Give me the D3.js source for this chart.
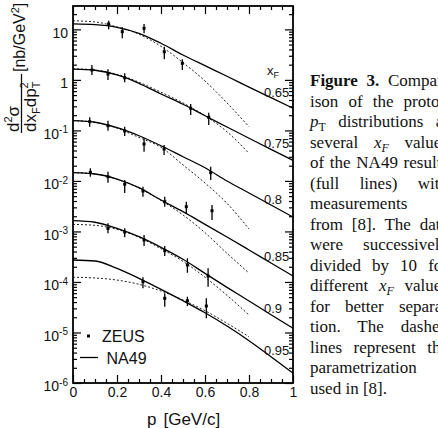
<!DOCTYPE html>
<html>
<head>
<meta charset="utf-8">
<script src="https://cdn.jsdelivr.net/npm/d3@7"></script>
<style>
body { margin: 0; background: #fff; }
svg text { font-family: "Liberation Sans", Arial, sans-serif; fill: #111; }
.caption text { font-family: "Liberation Serif", "Times New Roman", serif; font-size: 17px; }
</style>
</head>
<body>
<div class="chart"></div>
<script>
const WIDTH = 438;
const HEIGHT = 428;
const LEFT = 73, RIGHT = 293, TOP = 6, BOTTOM = 383;

// x_F bins, top to bottom (each divided by 10 w.r.t. the previous one)
var xfLabels = ["0.65", "0.75", "0.8", "0.85", "0.9", "0.95"];

// pT grid (GeV/c) on which the curves are read
var ptGrid = [0, 0.1, 0.2, 0.3, 0.4, 0.5, 0.6, 0.7, 0.8, 0.9, 1.0];
var ptParam = [0, 0.1, 0.2, 0.3, 0.4, 0.5, 0.6, 0.7, 0.8];

// NA49 (full lines)
var na49_065 = [12.8, 12.4, 11.0, 8.36, 5.3, 3.11, 1.91, 1.18, 0.72, 0.444, 0.274];
var na49_075 = [1.64, 1.55, 1.25, 0.855, 0.526, 0.329, 0.195, 0.117, 0.070, 0.042, 0.0256];
var na49_080 = [0.156, 0.145, 0.113, 0.0784, 0.0497, 0.0301, 0.0182, 0.00997, 0.00577, 0.00334, 0.00193];
var na49_085 = [0.01455, 0.0137, 0.0109, 0.00734, 0.00419, 0.00246, 0.00138, 0.000776, 0.00043, 0.000237, 0.000131];
var na49_090 = [0.00163, 0.00152, 0.00115, 0.000787, 0.000485, 0.000281, 0.000148, 7.83e-5, 4.2e-5, 2.25e-5, 1.21e-5];
var na49_095 = [0.000272, 0.00026, 0.000186, 0.000118, 7.14e-5, 4.25e-5, 2.46e-5, 1.34e-5, 6.87e-6, 3.31e-6, 1.56e-6];

// parametrization used in [8] (dashed lines)
var param_065 = [14.8, 14.0, 11.2, 8.0, 4.6, 2.2, 0.95, 0.35, 0.118];
var param_075 = [1.66, 1.57, 1.29, 0.9, 0.57, 0.35, 0.195, 0.094, 0.035];
var param_080 = [0.156, 0.145, 0.111, 0.0725, 0.0463, 0.0207, 0.0091, 0.0036, 0.00112];
var param_085 = [0.01455, 0.0137, 0.0108, 0.0072, 0.0041, 0.00212, 0.000944, 0.000369, 0.00015];
var param_090 = [0.00138, 0.00132, 0.0011, 0.000764, 0.000455, 0.000256, 0.000124, 5.44e-5, 2.22e-5];
var param_095 = [0.000124, 0.00012, 0.000109, 8.98e-5, 6.62e-5, 4.4e-5, 2.7e-5, 1.52e-5, 8.24e-6];

// ZEUS points: [pT, value, low, high]
var zeus_065 = [[0.162, 12.8, 10.0, 14.8], [0.224, 9.0, 6.65, 11.0], [0.323, 10.5, 8.36, 12.8],
                [0.415, 3.61, 2.55, 4.54], [0.497, 2.13, 1.57, 2.55]];
var zeus_075 = [[0.086, 1.57, 1.25, 1.97], [0.159, 1.31, 0.99, 1.62], [0.235, 1.10, 0.895, 1.35],
                [0.535, 0.274, 0.202, 0.333], [0.617, 0.182, 0.128, 0.224]];
var zeus_080 = [[0.076, 0.149, 0.118, 0.182], [0.159, 0.124, 0.0986, 0.156], [0.235, 0.0973, 0.0774, 0.118],
                [0.323, 0.0538, 0.0379, 0.0698], [0.414, 0.0429, 0.0326, 0.0514], [0.626, 0.01455, 0.0104, 0.0191]];
var zeus_085 = [[0.079, 0.0148, 0.0121, 0.0178], [0.159, 0.0121, 0.00923, 0.0152], [0.235, 0.00858, 0.00577, 0.0104],
                [0.318, 0.00632, 0.00488, 0.00769], [0.417, 0.00388, 0.00309, 0.00488], [0.515, 0.00309, 0.00221, 0.00388],
                [0.632, 0.00257, 0.00168, 0.00333]];
var zeus_090 = [[0.159, 0.00115, 0.000918, 0.00145], [0.235, 0.000975, 0.000764, 0.00115], [0.323, 0.000676, 0.000515, 0.000849],
                [0.417, 0.000416, 0.000327, 0.000515], [0.52, 0.000217, 0.000152, 0.000294], [0.614, 0.000131, 8.05e-5, 0.000186]];
var zeus_095 = [[0.318, 0.000101, 7.5e-5, 0.000124], [0.417, 4.74e-5, 3.24e-5, 5.96e-5],
                [0.52, 4.25e-5, 3.34e-5, 5.1e-5], [0.606, 3.34e-5, 1.91e-5, 4.74e-5]];

var xTicks = [0, 0.2, 0.4, 0.6, 0.8, 1];
var yDecades = [1e-6, 1e-5, 1e-4, 1e-3, 1e-2, 1e-1, 1, 10];

var na49Curves = [na49_065, na49_075, na49_080, na49_085, na49_090, na49_095];
var paramCurves = [param_065, param_075, param_080, param_085, param_090, param_095];
var zeusSets = [zeus_065, zeus_075, zeus_080, zeus_085, zeus_090, zeus_095];

// caption lines: segments [text, style]
var captionLines = [
    [["Figure 3.", "b"], [" Compar-", ""]],
    [["ison of the proton", ""]],
    [["p", "i"], ["T", "sub"], [" distributions at", ""]],
    [["several ", ""], ["x", "i"], ["F", "isub"], [" values", ""]],
    [["of the NA49 results", ""]],
    [["(full lines) with", ""]],
    [["measurements", ""]],
    [["from [8]. The data", ""]],
    [["were successively", ""]],
    [["divided by 10 for", ""]],
    [["different ", ""], ["x", "i"], ["F", "isub"], [" values", ""]],
    [["for better separa-", ""]],
    [["tion. The dashed", ""]],
    [["lines represent the", ""]],
    [["parametrization", ""]],
    [["used in [8].", "last"]]
];

var translate = function (x, y) {
    return "translate(" + x + "," + y + ")";
};

var _svg = d3.select('.chart').append('svg')
    .attr('width', WIDTH)
    .attr('height', HEIGHT);

var _x = d3.scaleLinear().domain([0, 1]).range([LEFT, RIGHT]);
var _y = d3.scaleLog().domain([1e-6, 29]).range([BOTTOM, TOP]);

// minor tick positions
var yMinor = [];
yDecades.forEach(function (d) {
    for (var k = 2; k <= 9; k++) {
        if (k * d <= 29) yMinor.push(k * d);
    }
});
var xMinor = d3.range(0, 1.001, 0.05).filter(function (v) { return Math.abs(v * 5 - Math.round(v * 5)) > 1e-6; });

var styleAxis = function (g) {
    g.select('.domain').remove();
    g.selectAll('.tick line').attr('stroke', '#000').attr('stroke-width', 1.2);
    g.selectAll('.tick text').style('font-size', '14px').attr('fill', '#111');
};

var generateAxis = function () {
    // bottom
    _svg.append('g').attr('transform', translate(0, BOTTOM))
        .call(d3.axisBottom(_x).tickValues(xMinor).tickSize(-4).tickFormat(''))
        .call(styleAxis);
    _svg.append('g').attr('transform', translate(0, BOTTOM))
        .call(d3.axisBottom(_x).tickValues(xTicks).tickSize(-8).tickPadding(4).tickFormat(d3.format('~g')))
        .call(styleAxis);
    // top
    _svg.append('g').attr('transform', translate(0, TOP))
        .call(d3.axisTop(_x).tickValues(xMinor).tickSize(-4).tickFormat(''))
        .call(styleAxis);
    _svg.append('g').attr('transform', translate(0, TOP))
        .call(d3.axisTop(_x).tickValues(xTicks).tickSize(-8).tickFormat(''))
        .call(styleAxis);
    // left
    _svg.append('g').attr('transform', translate(LEFT, 0))
        .call(d3.axisLeft(_y).tickValues(yMinor).tickSize(-4).tickFormat(''))
        .call(styleAxis);
    var yl = _svg.append('g').attr('transform', translate(LEFT, 0))
        .call(d3.axisLeft(_y).tickValues(yDecades).tickSize(-8).tickPadding(5))
        .call(styleAxis);
    yl.selectAll('.tick text').attr('dy', '0.55em').each(function (d) {
        var e = Math.round(Math.log10(d));
        var t = d3.select(this).text(null);
        if (e === 0) t.text('1');
        else if (e === 1) t.text('10');
        else {
            t.append('tspan').text('10');
            t.append('tspan').attr('dy', '-0.55em').style('font-size', '10px').text(e);
        }
    });
    // right
    _svg.append('g').attr('transform', translate(RIGHT, 0))
        .call(d3.axisRight(_y).tickValues(yMinor).tickSize(-4).tickFormat(''))
        .call(styleAxis);
    _svg.append('g').attr('transform', translate(RIGHT, 0))
        .call(d3.axisRight(_y).tickValues(yDecades).tickSize(-8).tickFormat(''))
        .call(styleAxis);

    _svg.append('rect')
        .attr('x', LEFT).attr('y', TOP)
        .attr('width', RIGHT - LEFT).attr('height', BOTTOM - TOP)
        .attr('fill', 'none').attr('stroke', '#000').attr('stroke-width', 1.8);
};

var line = d3.line()
    .x(function (d) { return _x(d[0]); })
    .y(function (d) { return _y(d[1]); })
    .curve(d3.curveMonotoneX);

var generateCurves = function () {
    var g = _svg.append('g').attr('class', 'curves');
    paramCurves.forEach(function (c) {
        g.append('path').attr('d', line(d3.zip(ptParam, c)))
            .attr('fill', 'none').attr('stroke', '#222')
            .attr('stroke-width', 1).attr('stroke-dasharray', '2,2');
    });
    na49Curves.forEach(function (c) {
        g.append('path').attr('d', line(d3.zip(ptGrid, c)))
            .attr('fill', 'none').attr('stroke', '#000').attr('stroke-width', 1.3);
    });
};

var generatePoints = function () {
    var g = _svg.append('g').attr('class', 'zeus');
    zeusSets.forEach(function (set) {
        var s = g.append('g');
        s.selectAll('line').data(set).enter().append('line')
            .attr('x1', function (d) { return _x(d[0]); })
            .attr('x2', function (d) { return _x(d[0]); })
            .attr('y1', function (d) { return _y(d[2]); })
            .attr('y2', function (d) { return _y(d[3]); })
            .attr('stroke', '#000').attr('stroke-width', 1.3);
        s.selectAll('rect').data(set).enter().append('rect')
            .attr('x', function (d) { return _x(d[0]) - 1.5; })
            .attr('y', function (d) { return _y(d[1]) - 1.5; })
            .attr('width', 3).attr('height', 3).attr('fill', '#000');
    });
};

var generateLabels = function () {
    var g = _svg.append('g').attr('class', 'xf-labels');
    var xf = g.append('text').attr('x', 267).attr('y', 75).style('font-size', '13px');
    xf.append('tspan').text('x');
    xf.append('tspan').attr('dy', 3).style('font-size', '9px').text('F');

    // each label sits on its NA49 curve near pT = 0.88
    na49Curves.forEach(function (c, i) {
        var logAt = d3.scaleLinear().domain(ptGrid).range(c.map(Math.log10));
        g.append('text')
            .attr('x', 264)
            .attr('y', _y(Math.pow(10, logAt(0.88))) + 1)
            .style('font-size', '13px')
            .text(xfLabels[i]);
    });

    // legend
    var lg = _svg.append('g').attr('class', 'legend');
    lg.append('rect').attr('x', 87).attr('y', 334.5).attr('width', 3).attr('height', 3).attr('fill', '#000');
    lg.append('text').attr('x', 102).attr('y', 342).style('font-size', '16px').text('ZEUS');
    lg.append('line').attr('x1', 80).attr('x2', 98).attr('y1', 357.5).attr('y2', 357.5)
        .attr('stroke', '#000').attr('stroke-width', 1.3);
    lg.append('text').attr('x', 106.5).attr('y', 363.5).style('font-size', '16px').text('NA49');
};

var generateTitles = function () {
    // x title
    var xt = _svg.append('text').attr('x', 147).attr('y', 425).style('font-size', '17px')
        .attr('xml:space', 'preserve');
    xt.append('tspan').text('p');
    xt.append('tspan').attr('dx', 7).text('[GeV/c]');

    // y title: rotated fraction
    var yt = _svg.append('g').attr('transform', translate(0, 133) + ' rotate(-90)');
    var num = yt.append('text').attr('x', 1).attr('y', 19).style('font-size', '17px');
    num.append('tspan').text('d');
    num.append('tspan').attr('dy', -7).style('font-size', '11px').text('2');
    num.append('tspan').attr('dy', 7).text('σ');
    yt.append('line').attr('x1', 0).attr('x2', 59).attr('y1', 21.5).attr('y2', 21.5)
        .attr('stroke', '#111').attr('stroke-width', 1.3);
    var den = yt.append('text').attr('x', 1).attr('y', 36).style('font-size', '17px');
    den.append('tspan').text('dx');
    den.append('tspan').attr('dy', 4).style('font-size', '11px').text('F');
    den.append('tspan').attr('dy', -4).text('dp');
    den.append('tspan').attr('dy', -8).style('font-size', '11px').text('2');
    den.append('tspan').attr('dx', -6).attr('dy', 12).style('font-size', '11px').text('T');
    var unit = yt.append('text').attr('x', 61).attr('y', 25).style('font-size', '16px');
    unit.append('tspan').text('[nb/GeV');
    unit.append('tspan').attr('dy', -6).style('font-size', '11px').text('2');
    unit.append('tspan').attr('dy', 6).text(']');
};

var generateCaption = function () {
    var CAP_X = 310, CAP_W = 138, CAP_Y = 86, CAP_LH = 20.5;
    var g = _svg.append('g').attr('class', 'caption');
    captionLines.forEach(function (segs, i) {
        var t = g.append('text').attr('x', CAP_X).attr('y', CAP_Y + i * CAP_LH)
            .attr('xml:space', 'preserve');
        var last = false;
        segs.forEach(function (s) {
            var sp = t.append('tspan').text(s[0]);
            if (s[1] === 'b') sp.style('font-weight', 'bold');
            if (s[1] === 'i') sp.style('font-style', 'italic');
            if (s[1] === 'sub' || s[1] === 'isub') {
                sp.attr('dy', 4).style('font-size', '12px');
                if (s[1] === 'isub') sp.style('font-style', 'italic');
            }
            if (s[1] === 'last') last = true;
        });
        // restore baseline after subscripts
        t.selectAll('tspan').each(function (d, j, nodes) {
            var prev = j > 0 ? d3.select(nodes[j - 1]).attr('dy') : null;
            if (prev === '4' && !d3.select(this).attr('dy')) d3.select(this).attr('dy', -4);
        });
        var full = segs.map(function (s) { return s[0]; }).join('');
        var gaps = (full.match(/ /g) || []).length;
        if (!last && gaps > 0) {
            var w = t.node().getComputedTextLength();
            t.attr('word-spacing', Math.max(0, (CAP_W - w) / gaps));
        }
    });
};

generateCurves();
generatePoints();
generateAxis();
generateLabels();
generateTitles();
generateCaption();
</script>
</body>
</html>
